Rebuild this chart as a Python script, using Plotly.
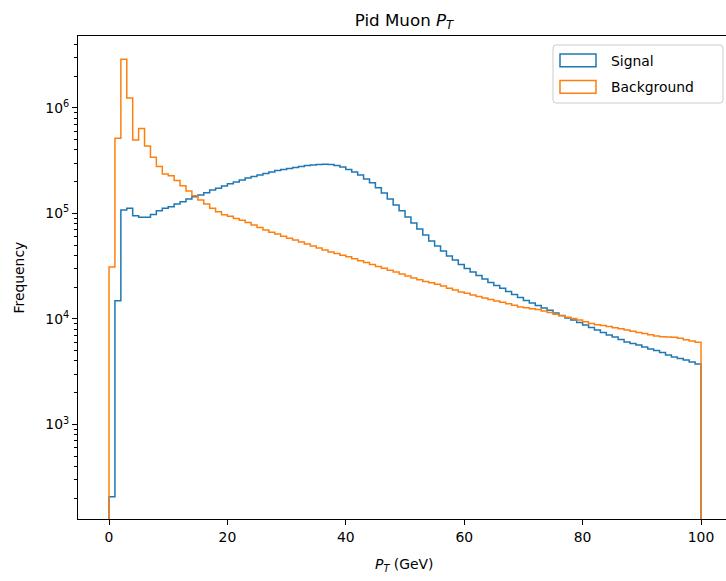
import numpy as np
import plotly.graph_objects as go

# 100 bins of 1 GeV from 0 to 100
bin_edges = np.linspace(0, 100, 101)

signal_counts = [
    207, 1.49e4, 1.08e5, 1.12e5, 9.5e4, 9.2e4, 9.2e4, 9.8e4, 1.06e5, 1.12e5,
    1.16e5, 1.23e5, 1.29e5, 1.37e5, 1.44e5, 1.5e5, 1.57e5, 1.67e5, 1.73e5, 1.82e5,
    1.91e5, 1.99e5, 2.08e5, 2.17e5, 2.24e5, 2.32e5, 2.39e5, 2.47e5, 2.56e5, 2.61e5,
    2.67e5, 2.73e5, 2.79e5, 2.85e5, 2.88e5, 2.91e5, 2.93e5, 2.91e5, 2.85e5, 2.76e5,
    2.61e5, 2.47e5, 2.32e5, 2.12e5, 1.95e5, 1.75e5, 1.56e5, 1.37e5, 1.20e5, 1.06e5,
    9.27e4, 8.13e4, 7.13e4, 6.26e4, 5.49e4, 4.92e4, 4.41e4, 3.96e4, 3.63e4, 3.29e4,
    3.01e4, 2.79e4, 2.58e4, 2.39e4, 2.22e4, 2.08e4, 1.95e4, 1.82e4, 1.71e4, 1.60e4,
    1.50e4, 1.42e4, 1.34e4, 1.27e4, 1.21e4, 1.14e4, 1.08e4, 1.02e4, 9.79e3, 9.27e3,
    8.78e3, 8.30e3, 7.87e3, 7.45e3, 7.05e3, 6.75e3, 6.39e3, 6.05e3, 5.86e3, 5.67e3,
    5.43e3, 5.20e3, 5.03e3, 4.82e3, 4.56e3, 4.37e3, 4.23e3, 4.09e3, 3.91e3, 3.74e3,
]

background_counts = [
    3.1e4, 5.16e5, 2.9e6, 1.24e6, 4.97e5, 6.4e5, 4.37e5, 3.41e5, 2.78e5, 2.37e5,
    2.28e5, 2.05e5, 1.83e5, 1.63e5, 1.47e5, 1.34e5, 1.23e5, 1.12e5, 1.04e5, 9.7e4,
    9.4e4, 8.95e4, 8.6e4, 8.22e4, 7.78e4, 7.37e4, 6.98e4, 6.64e4, 6.37e4, 6.09e4,
    5.83e4, 5.60e4, 5.36e4, 5.13e4, 4.91e4, 4.70e4, 4.50e4, 4.32e4, 4.17e4, 4.02e4,
    3.88e4, 3.72e4, 3.57e4, 3.42e4, 3.29e4, 3.15e4, 3.03e4, 2.90e4, 2.78e4, 2.67e4,
    2.56e4, 2.45e4, 2.35e4, 2.27e4, 2.20e4, 2.13e4, 2.05e4, 1.96e4, 1.88e4, 1.80e4,
    1.75e4, 1.69e4, 1.63e4, 1.58e4, 1.53e4, 1.48e4, 1.44e4, 1.39e4, 1.35e4, 1.30e4,
    1.28e4, 1.25e4, 1.23e4, 1.19e4, 1.15e4, 1.11e4, 1.07e4, 1.04e4, 1.01e4, 9.78e3,
    9.43e3, 9.07e3, 8.83e3, 8.66e3, 8.47e3, 8.27e3, 8.06e3, 7.85e3, 7.66e3, 7.45e3,
    7.27e3, 7.08e3, 6.90e3, 6.78e3, 6.75e3, 6.72e3, 6.58e3, 6.36e3, 6.17e3, 6.01e3,
]

series_names = ["Signal", "Background"]
series_colors = ["#1f77b4", "#ff7f0e"]
x_ticks = [0, 20, 40, 60, 80, 100]
y_major_ticks = [1e3, 1e4, 1e5, 1e6]
y_major_labels = ["10<sup>3</sup>", "10<sup>4</sup>", "10<sup>5</sup>", "10<sup>6</sup>"]
y_minor_ticks = [m * 10 ** d for d in range(2, 7) for m in range(2, 10)]

FONT = "DejaVu Sans"
Y_RANGE = [2.104, 6.682]


def step_outline(edges, counts, floor=1.0):
    # outline like matplotlib histtype='step': up at first edge, down at last
    xs = [edges[0]] + list(edges[:-1]) + [edges[-1]]
    ys = [floor] + list(counts) + [floor]
    return xs, ys


fig = go.Figure()

for name, counts, color in zip(series_names, [signal_counts, background_counts], series_colors):
    xs, ys = step_outline(bin_edges, counts)
    fig.add_trace(go.Scatter(x=xs, y=ys, mode="lines", name=name,
                             line=dict(color=color, width=1.5, shape="hv"),
                             showlegend=False))

# plot area in pixels: left 78, right 726, top 36, bottom 519
fig.update_layout(
    width=726, height=581,
    margin=dict(l=78, r=0, t=36, b=62),
    paper_bgcolor="white", plot_bgcolor="white",
    font=dict(family=FONT, size=13.9, color="black"),
    title=dict(text="Pid Muon <i>P</i><sub><i>T</i></sub>",
               x=404 / 726, xanchor="center", xref="container",
               y=1 - 20 / 581, yanchor="middle", yref="container",
               font=dict(family=FONT, size=16.7, color="black")),
    # second y axis only carries the short minor ticks of the log scale
    yaxis2=dict(type="log", range=Y_RANGE, overlaying="y", side="left",
                tickmode="array", tickvals=y_minor_ticks,
                ticktext=[""] * len(y_minor_ticks),
                ticks="outside", ticklen=3, tickwidth=0.8, tickcolor="black",
                showline=False, showgrid=False, zeroline=False),
)

# invisible trace so the minor-tick axis is drawn
fig.add_trace(go.Scatter(x=[None], y=[None], yaxis="y2", showlegend=False,
                         hoverinfo="skip"))

fig.update_xaxes(range=[-5.24, 104.22], tickvals=x_ticks,
                 ticks="outside", ticklen=5, tickwidth=1, tickcolor="black",
                 showline=True, linecolor="black", linewidth=1, mirror=True,
                 showgrid=False, zeroline=False,
                 tickfont=dict(family=FONT, size=13.9))

fig.update_layout(yaxis=dict(
    type="log", range=Y_RANGE, tickmode="array",
    tickvals=y_major_ticks, ticktext=y_major_labels,
    ticks="outside", ticklen=5, tickwidth=1, tickcolor="black",
    showline=True, linecolor="black", linewidth=1, mirror=False,
    showgrid=False, zeroline=False,
    tickfont=dict(family=FONT, size=13.9)))

# axis titles
fig.add_annotation(text="<i>P</i><sub><i>T</i></sub> (GeV)", xref="paper", yref="paper",
                   x=(404 - 78) / 648, y=(519 - 565) / 483, showarrow=False,
                   xanchor="center", yanchor="middle", font=dict(family=FONT, size=13.9))
fig.add_annotation(text="Frequency", xref="paper", yref="paper",
                   x=(18 - 78) / 648, y=0.5, showarrow=False, textangle=-90,
                   xanchor="center", yanchor="middle", font=dict(family=FONT, size=13.9))


# legend drawn like matplotlib: outlined patches in a light rounded frame
def px_x(px):
    return (px - 78) / 648


def px_y(py):
    return (519 - py) / 483


fx0, fx1, fy0, fy1, r = 553, 723, 45, 103, 3
corners = [
    ("M", fx0 + r, fy0), ("L", fx1 - r, fy0), ("Q", fx1, fy0), ("", fx1, fy0 + r),
    ("L", fx1, fy1 - r), ("Q", fx1, fy1), ("", fx1 - r, fy1),
    ("L", fx0 + r, fy1), ("Q", fx0, fy1), ("", fx0, fy1 - r),
    ("L", fx0, fy0 + r), ("Q", fx0, fy0), ("", fx0 + r, fy0),
]
frame_path = " ".join(f"{c} {px_x(x):.5f},{px_y(y):.5f}".strip() for c, x, y in corners) + " Z"
fig.add_shape(type="path", path=frame_path, xref="x domain", yref="y domain",
              line=dict(color="#cccccc", width=1), fillcolor="rgba(255,255,255,0.8)")

for i, (name, color) in enumerate(zip(series_names, series_colors)):
    top = 54 + i * 26.5
    fig.add_shape(type="rect", xref="x domain", yref="y domain",
                  x0=px_x(560), x1=px_x(596), y0=px_y(top + 12.7), y1=px_y(top),
                  line=dict(color=color, width=1.5), fillcolor="rgba(0,0,0,0)")
    fig.add_annotation(text=name, xref="x domain", yref="y domain",
                       x=px_x(609), y=px_y(top + 6.5), showarrow=False,
                       xanchor="left", yanchor="middle",
                       font=dict(family=FONT, size=13.9))

# drop the default 8px body margin so the figure sits at the page origin
fig.write_html("out.html", post_script="document.body.style.margin='0';",
               config={"displayModeBar": False})
